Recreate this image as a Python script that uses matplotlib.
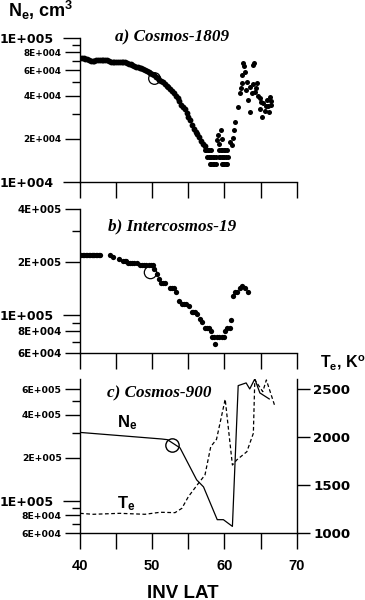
import matplotlib
matplotlib.use('Agg')
import matplotlib.pyplot as plt
from matplotlib.ticker import FixedLocator, FixedFormatter, NullFormatter

plt.rcParams['mathtext.fontset'] = 'custom'
plt.rcParams['mathtext.rm'] = 'Liberation Sans:bold'
plt.rcParams['mathtext.it'] = 'Liberation Sans:bold'
plt.rcParams['mathtext.bf'] = 'Liberation Sans:bold'

# ---------------- data ----------------
# a) Cosmos-1809 : dense track + trough + scattered points
lat_a_track = [40.0, 40.25, 40.5, 40.75, 41.0, 41.25, 41.5, 41.75, 42.0, 42.25, 42.5, 42.75,
               43.0, 43.25, 43.5, 43.75, 44.0, 44.25, 44.5, 44.75, 45.0, 45.25, 45.5, 45.75,
               46.0, 46.25, 46.5, 46.75, 47.0, 47.25, 47.5, 47.75, 48.0, 48.25, 48.5, 48.75,
               49.0, 49.25, 49.5, 49.75, 50.0, 50.25, 50.5, 50.75, 51.0, 51.25, 51.5, 51.75,
               52.0, 52.25, 52.5, 52.75, 53.0, 53.25, 53.5, 53.75, 54.0, 54.25, 54.5, 54.75,
               55.0, 55.25, 55.5, 55.75, 56.0, 56.25, 56.5, 56.75, 57.0, 57.25]
ne_a_track = [73.5e3, 73e3, 72.5e3, 72e3, 71.5e3, 70.5e3, 69.5e3, 69.5e3, 70e3, 71e3, 71e3, 70.5e3,
              70.5e3, 70.5e3, 70.5e3, 70.5e3, 70e3, 69e3, 68.5e3, 68e3, 68e3, 68e3, 68e3, 68.5e3,
              69e3, 68.5e3, 67.5e3, 66.5e3, 66e3, 65.5e3, 64.5e3, 63.5e3, 63e3, 62.5e3, 62e3, 61e3,
              60.5e3, 59.5e3, 58.5e3, 57.5e3, 56.5e3, 55.5e3, 54e3, 53e3, 51.5e3, 50.5e3, 49.5e3, 48e3,
              47e3, 46e3, 44.5e3, 43e3, 41.5e3, 40e3, 38.5e3, 36.5e3, 34.5e3, 33.5e3, 32.5e3, 30.5e3,
              28.5e3, 27e3, 25e3, 23.5e3, 22.5e3, 21.5e3, 20.5e3, 19.5e3, 18.5e3, 17.8e3]
lat_a_scatter = [57.3, 57.5, 57.7, 57.9, 58.1,
                 57.6, 57.8, 58.0, 58.2, 58.4, 58.6, 58.8,
                 58.0, 58.2, 58.4, 58.6, 58.8,
                 59.3, 59.5, 59.7, 59.9, 60.1, 60.3,
                 59.2, 59.4, 59.6, 59.8, 60.0, 60.2, 60.5,
                 59.6, 59.8, 60.0, 60.2, 60.4,
                 59.0, 59.1, 59.3, 59.5, 59.6, 60.8, 61.0, 61.2, 61.3, 61.5, 61.9, 62.15,
                 62.3, 62.4, 62.4, 62.6, 62.7, 62.8, 63.1, 63.0, 63.3, 63.5, 63.5, 63.75,
                 64.0, 64.1, 63.9, 64.2, 64.5, 64.3, 64.9, 64.9, 65.2, 65.4, 65.6, 65.85,
                 66.1, 66.3, 66.5, 66.0, 65.0, 64.6, 66.4, 65.7]
ne_a_scatter = [16.8e3, 16.8e3, 16.8e3, 16.8e3, 16.8e3,
                15.1e3, 15.1e3, 15.1e3, 15.1e3, 15.1e3, 15.1e3, 15.1e3,
                13.5e3, 13.5e3, 13.5e3, 13.5e3, 13.5e3,
                16.8e3, 16.8e3, 16.8e3, 16.8e3, 16.8e3, 16.8e3,
                15.1e3, 15.1e3, 15.1e3, 15.1e3, 15.1e3, 15.1e3, 15.1e3,
                13.5e3, 13.5e3, 13.5e3, 13.5e3, 13.5e3,
                19.7e3, 21.3e3, 18.5e3, 23.0e3, 19.9e3, 19.1e3, 18.3e3, 20.2e3, 23.0e3, 26.4e3, 33.5e3, 41.5e3,
                45e3, 55.6e3, 48.7e3, 67e3, 64e3, 58e3, 50e3, 44e3, 37.3e3, 46.1e3, 30.9e3, 41.5e3,
                65.3e3, 67e3, 48e3, 42.6e3, 48.7e3, 45e3, 38.3e3, 32.5e3, 28.6e3, 35.4e3, 31.5e3, 37.3e3,
                30.9e3, 39.3e3, 34.4e3, 34e3, 36e3, 40e3, 36.5e3, 34e3]
circle_a_lat, circle_a_ne = 50.3, 52.7e3

# b) Intercosmos-19
lat_b = [40.0, 40.2, 40.4, 40.6, 40.8, 41.0, 41.2, 41.4, 41.6, 41.8, 42.0, 42.2, 42.4, 42.6, 42.8,
         44.1, 44.5, 45.4, 46.0, 46.2, 46.4, 46.6, 46.9, 47.2, 47.5, 47.9, 48.3, 48.6, 48.9, 49.2,
         49.5, 49.8, 50.1, 50.3, 50.6, 50.9, 51.2, 51.5, 51.8, 52.4, 52.7, 53.0, 53.25, 53.7, 54.1,
         54.4, 54.7, 55.1, 55.5, 55.7, 55.9, 56.2, 56.6, 56.9, 57.3, 57.6, 57.9, 58.1, 58.3, 58.6,
         58.75, 59.0, 59.3, 59.6, 59.9, 60.05, 60.4, 60.7, 60.9, 61.2, 61.5, 61.8, 62.1, 62.4, 62.8, 63.3]
ne_b = [219e3] * 15 + \
       [218e3, 213e3, 207e3, 202e3, 202e3, 202e3, 197e3, 197e3, 197e3, 197e3, 197e3, 191e3, 191e3, 191e3, 191e3,
        191e3, 191e3, 191e3, 183e3, 171e3, 160e3, 151e3, 151e3, 151e3, 142e3, 142e3, 142e3, 134e3, 119e3, 115e3,
        115e3, 115e3, 112e3, 104e3, 104e3, 104e3, 101e3, 94.5e3, 90.3e3, 83.9e3, 83.9e3, 83.9e3, 80.9e3, 74.1e3, 74.1e3,
        67.9e3, 74.1e3, 74.1e3, 74.1e3, 74.1e3, 80.2e3, 83.4e3, 83.4e3, 93.6e3, 127e3, 134e3, 134e3, 141e3, 145e3, 142e3, 134e3]
circle_b_lat, circle_b_ne = 49.7, 175e3

# c) Cosmos-900
lat_c_ne = [40.0, 51.3, 52.1, 53.85, 56.15, 57.1, 59.0, 59.85, 61.1, 61.9, 63.0, 63.5, 64.2, 64.9, 66.2]
ne_c = [301e3, 271e3, 268e3, 235e3, 141e3, 126e3, 74.6e3, 74.6e3, 67e3, 636e3, 664e3, 603e3, 708e3, 566e3, 514e3]
lat_c_te = [40.0, 41.8, 45.5, 49.0, 51.1, 53.15, 54.1, 55.0, 56.4, 57.3, 58.1, 58.9, 60.1, 61.1, 61.7,
            63.1, 64.0, 64.2, 65.3, 65.8, 67.0]
te_c = [1208, 1198, 1208, 1198, 1219, 1215, 1260, 1381, 1521, 1607, 1902, 1979, 2396, 1711, 1764,
        1850, 2042, 2600, 2475, 2597, 2319]
circle_c_lat, circle_c_ne = 52.8, 248e3

# tick definitions
a_major = [1e4, 2e4, 4e4, 6e4, 8e4, 1e5]
a_labels = ['1E+004', '2E+004', '4E+004', '6E+004', '8E+004', '1E+005']
a_minor = [3e4, 5e4, 7e4, 9e4]
b_major = [6e4, 8e4, 1e5, 2e5, 4e5]
b_labels = ['6E+004', '8E+004', '1E+005', '2E+005', '4E+005']
b_minor = [7e4, 9e4, 3e5]
c_major = [6e4, 8e4, 1e5, 2e5, 4e5, 6e5]
c_labels = ['6E+004', '8E+004', '1E+005', '2E+005', '4E+005', '6E+005']
c_minor = [7e4, 9e4, 3e5, 5e5]
decades = [1e4, 1e5]
te_ticks = [1000, 1500, 2000, 2500]
x_ticks = [40, 45, 50, 55, 60, 65, 70]
x_labels = ['40', '', '50', '', '60', '', '70']

# ---------------- figure ----------------
W, H = 365, 600
fig = plt.figure(figsize=(W / 100, H / 100), dpi=100)


def rect(l, t, r, b):
    return [l / W, 1 - b / H, (r - l) / W, (b - t) / H]


def ftext(x, y, s, **kw):
    fig.text(x / W, 1 - y / H, s, va='baseline', ha='left', **kw)


ax_a = fig.add_axes(rect(80, 38.3, 296.7, 182.3))
ax_b = fig.add_axes(rect(80, 209.3, 296.7, 353.3))
ax_c = fig.add_axes(rect(80, 379, 296.7, 533.3))


def style_axis(ax, ylim, major, labels, minor, small_fs, xlabels=None):
    ax.set_yscale('log')
    ax.set_ylim(*ylim)
    ax.set_xlim(40, 70)
    for s in ['top', 'right']:
        ax.spines[s].set_visible(False)
    for s in ['left', 'bottom']:
        ax.spines[s].set_linewidth(1.0)
    ax.yaxis.set_major_locator(FixedLocator(major))
    ax.yaxis.set_major_formatter(FixedFormatter(labels))
    ax.yaxis.set_minor_locator(FixedLocator(minor))
    ax.yaxis.set_minor_formatter(NullFormatter())
    ax.tick_params(axis='y', which='major', direction='out', length=10.8, width=1, pad=2.4,
                   labelsize=small_fs)
    ax.tick_params(axis='y', which='minor', direction='out', length=5.8, width=1)
    ax.xaxis.set_major_locator(FixedLocator(x_ticks))
    if xlabels is None:
        ax.xaxis.set_major_formatter(NullFormatter())
    else:
        ax.xaxis.set_major_formatter(FixedFormatter(xlabels))
    ax.xaxis.set_minor_locator(FixedLocator([]))
    ax.tick_params(axis='x', which='major', direction='out', length=11.2, width=1, pad=7,
                   labelsize=10.5)
    for lab in ax.get_xticklabels():
        lab.set_fontfamily('Liberation Sans')
        lab.set_fontweight('bold')
    for t, v in zip(ax.yaxis.get_major_ticks(), major):
        t.label1.set_fontfamily('DejaVu Sans')
        t.label1.set_fontweight('bold')
        if v in decades:
            t.label1.set_fontsize(9.0)
            t._apply_params(size=12.2, pad=7.0)


style_axis(ax_a, (1e4, 1e5), a_major, a_labels, a_minor, 6.4)
style_axis(ax_b, (6e4, 4e5), b_major, b_labels, b_minor, 7.4)
style_axis(ax_c, (6e4, 7.07e5), c_major, c_labels, c_minor, 6.7, xlabels=x_labels)

# panel a
ax_a.plot(lat_a_track, ne_a_track, 'o', color='black', ms=4.2, mew=0)
ax_a.plot(lat_a_scatter, ne_a_scatter, 'o', color='black', ms=3.6, mew=0)
ax_a.plot([circle_a_lat], [circle_a_ne], 'o', mfc='none', mec='black', ms=8.4, mew=0.9)

# panel b
ax_b.plot(lat_b, ne_b, 'o', color='black', ms=3.8, mew=0)
ax_b.plot([circle_b_lat], [circle_b_ne], 'o', mfc='none', mec='black', ms=8.9, mew=0.9)

# panel c
ax_c.plot(lat_c_ne, ne_c, '-', color='black', lw=0.9)
ax_c.plot([circle_c_lat], [circle_c_ne], 'o', mfc='none', mec='black', ms=9.6, mew=1.0)
ax_r = ax_c.twinx()
ax_r.set_ylim(1000, 2607)
for s in ['top', 'left', 'bottom']:
    ax_r.spines[s].set_visible(False)
ax_r.spines['right'].set_linewidth(1.0)
ax_r.yaxis.set_major_locator(FixedLocator(te_ticks))
ax_r.tick_params(axis='y', which='major', direction='out', length=9.4, width=1, pad=2.4,
                 labelsize=9.6)
for lab in ax_r.get_yticklabels():
    lab.set_fontfamily('DejaVu Sans')
    lab.set_fontweight('bold')
ax_r.plot(lat_c_te, te_c, color='black', lw=0.9, linestyle=(0, (3, 2)))

# texts
ftext(8, 17, r'N$_\mathrm{e}$, cm$^\mathrm{3}$', fontsize=13, family='Liberation Sans', weight='bold')
ftext(115, 41.7, 'a) Cosmos-1809', fontsize=12.3, family='Liberation Serif', style='italic', weight='bold')
ftext(108, 230, 'b) Intercosmos-19', fontsize=12.3, family='Liberation Serif', style='italic', weight='bold')
ftext(106.7, 397, 'c) Cosmos-900', fontsize=12.3, family='Liberation Serif', style='italic', weight='bold')
ftext(320, 367, r'T$_\mathrm{e}$, K$^\mathrm{o}$', fontsize=11.5, family='Liberation Sans', weight='bold')
ftext(116.7, 427, r'N$_\mathrm{e}$', fontsize=12, family='Liberation Sans', weight='bold')
ftext(116.7, 508, r'T$_\mathrm{e}$', fontsize=12, family='Liberation Sans', weight='bold')
fig.text(183 / W, 1 - 597.5 / H, 'INV LAT', ha='center', va='baseline', fontsize=13.5,
         family='Liberation Sans', weight='bold')

fig.savefig('out.png', dpi=100)
